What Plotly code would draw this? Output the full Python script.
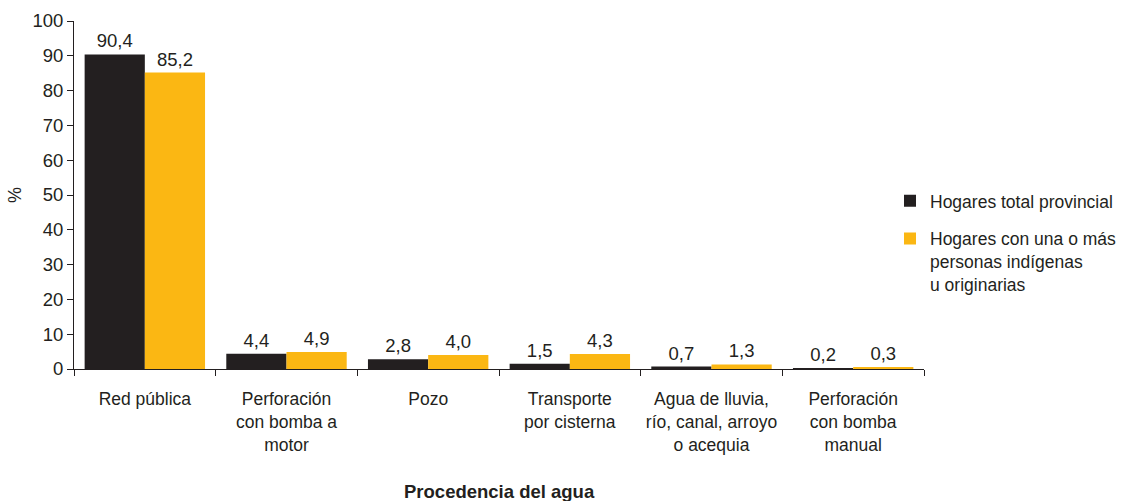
import plotly.graph_objects as go

categories = [
    "Red pública",
    "Perforación<br>con bomba a<br>motor",
    "Pozo",
    "Transporte<br>por cisterna",
    "Agua de lluvia,<br>río, canal, arroyo<br>o acequia",
    "Perforación<br>con bomba<br>manual",
]
total_provincial = [90.4, 4.4, 2.8, 1.5, 0.7, 0.2]
indigenas = [85.2, 4.9, 4.0, 4.3, 1.3, 0.3]
series_names = [
    "Hogares total provincial",
    "Hogares con una o más<br>personas indígenas<br>u originarias",
]
y_ticks = [0, 10, 20, 30, 40, 50, 60, 70, 80, 90, 100]

TXT = "#231f20"
FONT = "Liberation Sans, Arial, Helvetica, sans-serif"

fig = go.Figure()
fig.add_trace(go.Bar(
    x=categories, y=total_provincial, name=series_names[0],
    marker=dict(color="#231f20", line=dict(width=0)),
    texttemplate="%{y:.1f}", textposition="outside",
    textfont=dict(size=18.5, color=TXT), cliponaxis=False, legendgroup="a",
))
fig.add_trace(go.Bar(
    x=categories, y=indigenas, name=series_names[1],
    marker=dict(color="#fbb713", line=dict(width=0)),
    texttemplate="%{y:.1f}", textposition="outside",
    textfont=dict(size=18.5, color=TXT), cliponaxis=False, legendgroup="b",
))

fig.update_layout(
    width=1132, height=501,
    margin=dict(l=74, r=208, t=21, b=132, autoexpand=False),
    paper_bgcolor="white", plot_bgcolor="white",
    separators=",.",
    font=dict(family=FONT, size=18, color=TXT),
    barmode="group", bargap=0.15, bargroupgap=0,
    showlegend=True,
    legend=dict(
        x=0.96, xanchor="left", y=0.535, yanchor="top",
        font=dict(size=17.5, color=TXT),
        traceorder="grouped", tracegroupgap=12, valign="top",
        bgcolor="rgba(0,0,0,0)", itemwidth=30,
    ),
)
fig.update_xaxes(
    showline=True, linecolor=TXT, linewidth=1,
    ticks="outside", tickson="boundaries", ticklen=6, tickcolor=TXT,
    tickfont=dict(size=17.5, color=TXT), showgrid=False,
    tickangle=0, ticklabelstandoff=14,
)
fig.update_yaxes(
    range=[0, 100], tickvals=y_ticks, showline=True, linecolor=TXT, linewidth=1,
    ticks="outside", ticklen=6, tickcolor=TXT, showgrid=False, zeroline=False,
    tickfont=dict(size=18.5, color=TXT),
    title=dict(text="%", font=dict(size=18, color=TXT), standoff=6),
)
fig.add_annotation(
    text="<b>Procedencia del agua</b>", xref="paper", yref="paper",
    x=0.5, y=-0.353, xanchor="center", yanchor="middle", showarrow=False,
    font=dict(size=18.5, color=TXT),
)

fig.write_html("out.html", config={"displayModeBar": False},
               post_script="document.body.style.margin='0';")
